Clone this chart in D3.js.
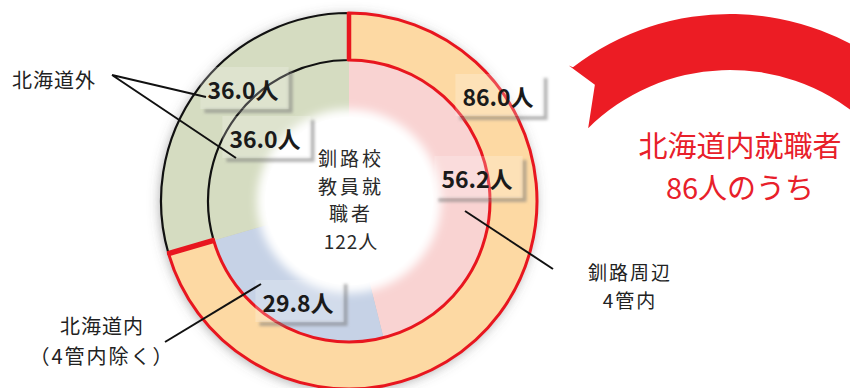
<!DOCTYPE html>
<html lang="ja">
<head>
<meta charset="utf-8">
<script src="https://cdn.jsdelivr.net/npm/d3@7/dist/d3.min.js"></script>
<style>
  html, body { margin: 0; padding: 0; background: #fff; }
  svg { display: block; font-family: "Noto Sans CJK JP", "Noto Sans", sans-serif; }
</style>
</head>
<body>
<svg id="chart" width="850" height="388"></svg>
<script>
// 外側リング：道内／道外
const outerCategories = ["北海道内", "北海道外"];
const outerValues = [86.0, 36.0];
// 内側リング：道内の内訳と道外
const innerCategories = ["釧路周辺4管内", "北海道内（4管内除く）", "北海道外"];
const innerValues = [56.2, 29.8, 36.0];
const centerTitle = ["釧路校", "教員就", "職者"];
const unit = "人";

const outerColors = ["#fdd9a3", "#d5dcc1"];
const innerColors = ["#f9d3d2", "#c6d2e6", "#d5dcc1"];
const outerStroke = ["#e8161f", "#111"];

const W = 850, H = 388;
const cx = 349, cy = 201;
const rOuter = 188, rMid = 141, rInner = 90;

const svg = d3.select("#chart");
const defs = svg.append("defs");

defs.append("filter").attr("id", "ringShadow")
  .attr("x", "-20%").attr("y", "-20%").attr("width", "140%").attr("height", "140%")
  .append("feDropShadow")
  .attr("dx", -1).attr("dy", 2).attr("stdDeviation", 6)
  .attr("flood-color", "#555").attr("flood-opacity", 0.5);

defs.append("filter").attr("id", "softEdge")
  .attr("x", "-30%").attr("y", "-30%").attr("width", "160%").attr("height", "160%")
  .append("feGaussianBlur").attr("stdDeviation", 5);

defs.append("filter").attr("id", "boxShadow")
  .attr("x", "-20%").attr("y", "-50%").attr("width", "140%").attr("height", "200%")
  .append("feGaussianBlur").attr("stdDeviation", 1.6);

const pie = d3.pie().sort(null).value(d => d).startAngle(0).endAngle(2 * Math.PI);
const outerArcs = pie(outerValues);
const innerArcs = pie(innerValues);

const arcOuter = d3.arc().innerRadius(rMid).outerRadius(rOuter);
const arcInner = d3.arc().innerRadius(rInner - 8).outerRadius(rMid);

const ring = svg.append("g").attr("transform", `translate(${cx},${cy})`);

// filled rings with a soft shadow
const fills = ring.append("g").attr("filter", "url(#ringShadow)");
fills.selectAll("path.inner").data(innerArcs).join("path")
  .attr("class", "inner")
  .attr("d", arcInner)
  .attr("fill", (d, i) => innerColors[i]);
fills.selectAll("path.outer").data(outerArcs).join("path")
  .attr("class", "outer")
  .attr("d", arcOuter)
  .attr("fill", (d, i) => outerColors[i]);

// white hole with a blurred rim
ring.append("circle").attr("r", rInner + 2).attr("fill", "#fff").attr("filter", "url(#softEdge)");
ring.append("circle").attr("r", rInner - 6).attr("fill", "#fff");

// outlines of the outer ring: black for 道外, red for 道内 (drawn last)
[1, 0].forEach(i => {
  ring.append("path")
    .attr("d", arcOuter(outerArcs[i]))
    .attr("fill", "none")
    .attr("stroke", outerStroke[i])
    .attr("stroke-width", i === 0 ? 3 : 2.2)
    .attr("stroke-linejoin", "miter");
});

// red dividers between the outer segments
outerArcs.forEach(a => {
  const ang = a.startAngle;
  const s = Math.sin(ang), c = -Math.cos(ang);
  ring.append("line")
    .attr("x1", s * (rMid - 1)).attr("y1", c * (rMid - 1))
    .attr("x2", s * (rOuter + 1)).attr("y2", c * (rOuter + 1))
    .attr("stroke", "#e8161f")
    .attr("stroke-width", ang === 0 ? 4.5 : 5.5);
});

// value labels with shadowed boxes
const labelPos = {
  outer: [{ dx: 149, dy: -105 }, { dx: -106, dy: -112 }],
  inner: [{ dx: 128, dy: -23 }, { dx: -51, dy: 101 }, { dx: -84, dy: -63 }]
};
const fmt = d3.format(".1f");
const labelLayer = svg.append("g");
function valueLabel(value, pos) {
  const g = labelLayer.append("g").attr("transform", `translate(${cx + pos.dx},${cy + pos.dy})`);
  const shadow = g.append("path");
  const box = g.append("rect");
  const t = g.append("text")
    .attr("text-anchor", "middle")
    .attr("dominant-baseline", "central")
    .attr("font-size", 23)
    .attr("font-weight", 700)
    .attr("fill", "#1a1a1a")
    .text(fmt(value) + unit);
  const b = t.node().getBBox();
  const x0 = b.x - 7, y0 = b.y - 5, w = b.width + 17, h = b.height + 8;
  box.attr("x", x0).attr("y", y0).attr("width", w).attr("height", h)
    .attr("fill", "#fff").attr("fill-opacity", 0.22);
  shadow.attr("d", `M${x0 + w},${y0 + 4}h4v${h}h${-w}v-4h${w - 4}z`)
    .attr("fill", "#7a7a7a").attr("fill-opacity", 0.55).attr("filter", "url(#boxShadow)");
}
outerArcs.forEach((a, i) => valueLabel(a.data, labelPos.outer[i]));
innerArcs.forEach((a, i) => valueLabel(a.data, labelPos.inner[i]));

// multi-line text block built from tspans; optional per-line letter spacing
function textBlock(parent, x, y, lines, lineHeight, spacing) {
  const t = parent.append("text").attr("x", x).attr("y", y);
  t.selectAll("tspan").data(lines).join("tspan")
    .attr("x", x)
    .attr("dy", (d, i) => i === 0 ? 0 : lineHeight)
    .attr("letter-spacing", (d, i) => spacing ? spacing[i] : null)
    .text(d => d);
  return t;
}

// centre caption
const total = d3.sum(outerValues);
const centerG = svg.append("g")
  .attr("font-size", 19)
  .attr("fill", "#2a2a2a")
  .attr("text-anchor", "middle")
  .attr("dominant-baseline", "central");
textBlock(centerG, cx + 2, 157, centerTitle.concat([total + unit]), 27.6, [3, 3, 3, 1]);

// category callouts
const callouts = svg.append("g").attr("stroke", "#111").attr("stroke-width", 2).attr("fill", "none");
callouts.append("path").attr("d", "M112,75L206,97M112,75L236,158");
callouts.append("path").attr("d", "M165,342L261,284");
callouts.append("path").attr("d", "M465,211L553,269");

const catText = svg.append("g")
  .attr("font-size", 20)
  .attr("fill", "#222")
  .attr("text-anchor", "middle")
  .attr("dominant-baseline", "central");
catText.append("text").attr("x", 54).attr("y", 79).attr("letter-spacing", 1).text(outerCategories[1]);
textBlock(catText, 102, 325, [innerCategories[1].slice(0, 4), innerCategories[1].slice(4)], 29.5, [1, 2]);
textBlock(catText.append("g").attr("font-size", 19),
  630, 271, [innerCategories[0].slice(0, 4), innerCategories[0].slice(4)], 28, [2, 2]);

// red ribbon over the headline
const sx = 730, sy = 272, sOut = 258, sIn = 202;
const m = deg => (deg - 90) * Math.PI / 180;
const pt = (deg, r) => [sx + r * Math.cos(m(deg)), sy + r * Math.sin(m(deg))];
const ribbon = d3.path();
const tip = pt(-38, 262), notch = pt(-35.8, 231);
ribbon.moveTo(tip[0], tip[1]);
ribbon.arc(sx, sy, sOut, m(-37.5), m(40), false);
ribbon.arc(sx, sy, sIn, m(40), m(-44.6), true);
ribbon.lineTo(notch[0], notch[1]);
ribbon.closePath();
svg.append("path").attr("d", ribbon.toString()).attr("fill", "#ec1c24");

const head = svg.append("g")
  .attr("fill", "#e8202a")
  .attr("font-size", 29)
  .attr("text-anchor", "middle")
  .attr("dominant-baseline", "central");
textBlock(head, 740, 144, [outerCategories[0] + "就職者", outerValues[0] + unit + "のうち"], 42);
</script>
</body>
</html>
